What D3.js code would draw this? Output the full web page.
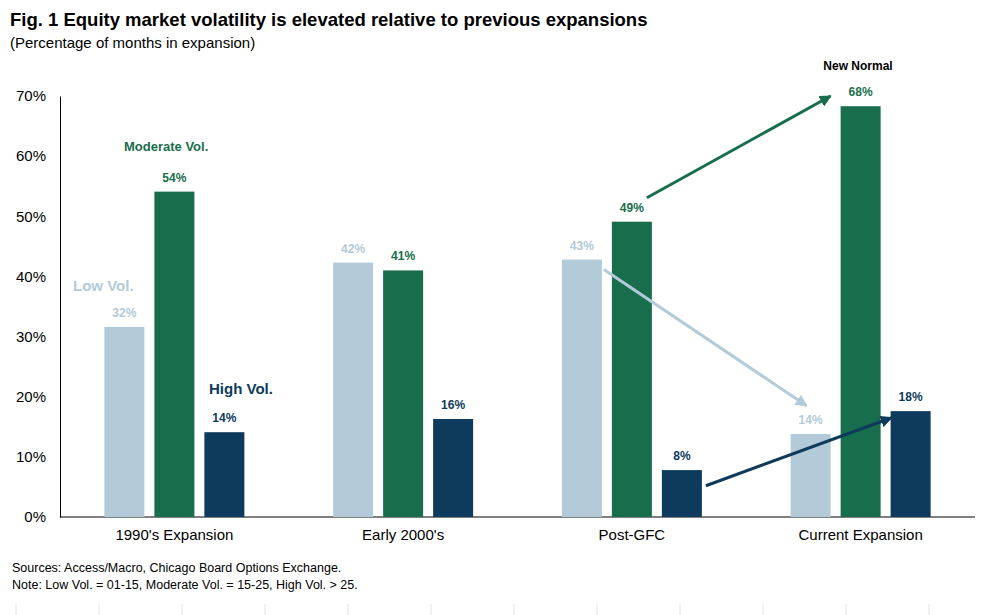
<!DOCTYPE html>
<html><head><meta charset="utf-8">
<script src="https://cdn.jsdelivr.net/npm/d3@7"></script>
<style>body{margin:0;background:#fff}text{font-family:Arial,"Liberation Sans",sans-serif}</style>
</head><body>
<script>
var categories = ["1990's Expansion", "Early 2000's", "Post-GFC", "Current Expansion"];
var series = ["Low Vol.", "Moderate Vol.", "High Vol."];
var lowVol = [31.6, 42.3, 42.8, 13.8];
var modVol = [54.1, 41.0, 49.1, 68.3];
var highVol = [14.1, 16.3, 7.8, 17.6];
var labels = [["32%", "54%", "14%"], ["42%", "41%", "16%"], ["43%", "49%", "8%"], ["14%", "68%", "18%"]];
var yTicks = [0, 10, 20, 30, 40, 50, 60, 70];
var colors = ["#b3cad8", "#186e4c", "#0e3a5c"];

var width = 998, height = 615;
var svg = d3.select("body").append("svg").attr("width", width).attr("height", height);

var x = d3.scaleBand().domain(categories).range([60, 975]);
var y = d3.scaleLinear().domain([0, 70]).range([517, 96]);
var barW = 40, gap = 10;
function bx(c, i) { return x(c) + x.bandwidth() / 2 + (i - 1) * (barW + gap) - barW / 2; }

svg.append("text").attr("x", 10).attr("y", 26).attr("font-size", 18.5).attr("font-weight", "bold")
  .text("Fig. 1 Equity market volatility is elevated relative to previous expansions");
svg.append("text").attr("x", 10).attr("y", 48).attr("font-size", 15).text("(Percentage of months in expansion)");

var yAxis = svg.append("g").attr("transform", "translate(60,0)")
  .call(d3.axisLeft(y).tickValues(yTicks).tickFormat(d => d + "%").tickSize(0).tickPadding(14));
yAxis.selectAll("text").attr("font-size", 15).attr("fill", "#000");
yAxis.select(".domain").attr("stroke", "#000");
var xAxis = svg.append("g").attr("transform", "translate(0,517)")
  .call(d3.axisBottom(x).tickSize(0).tickPadding(12));
xAxis.selectAll("text").attr("font-size", 15).attr("fill", "#000");
xAxis.select(".domain").attr("stroke", "#000").attr("d", "M60,0H975");

var data = [];
categories.forEach(function (c, ci) {
  [lowVol, modVol, highVol].forEach(function (s, si) {
    data.push({ c: c, si: si, v: s[ci], lab: labels[ci][si] });
  });
});
svg.selectAll("rect.bar").data(data).enter().append("rect")
  .attr("x", d => bx(d.c, d.si)).attr("y", d => y(d.v))
  .attr("width", barW).attr("height", d => y(0) - y(d.v)).attr("fill", d => colors[d.si]);
svg.selectAll("text.val").data(data).enter().append("text")
  .attr("x", d => bx(d.c, d.si) + barW / 2).attr("y", d => y(d.v) - 10)
  .attr("text-anchor", "middle").attr("font-size", 12).attr("font-weight", "bold")
  .attr("fill", d => colors[d.si]).text(d => d.lab);

// series labels
svg.append("text").attr("x", 73).attr("y", 291).attr("font-size", 15).attr("font-weight", "bold").attr("fill", colors[0]).text(series[0]);
svg.append("text").attr("x", 124).attr("y", 151).attr("font-size", 13).attr("font-weight", "bold").attr("fill", colors[1]).text(series[1]);
svg.append("text").attr("x", 209).attr("y", 394).attr("font-size", 15).attr("font-weight", "bold").attr("fill", colors[2]).text(series[2]);
svg.append("text").attr("x", 858).attr("y", 70).attr("font-size", 12).attr("font-weight", "bold").attr("text-anchor", "middle").text("New Normal");

// arrows
var defs = svg.append("defs");
colors.forEach(function (col, i) {
  defs.append("marker").attr("id", "ah" + i).attr("viewBox", "0 0 10 10").attr("refX", 9).attr("refY", 5)
    .attr("markerWidth", 4).attr("markerHeight", 4).attr("orient", "auto")
    .append("path").attr("d", "M0,0L10,5L0,10z").attr("fill", col);
});
var arrows = [
  { si: 1, x1: bx(categories[2], 1) + 35, y1: y(49.1) - 24, x2: bx(categories[3], 1) - 10, y2: y(70) },
  { si: 0, x1: bx(categories[2], 0) + 42, y1: y(43) + 11, x2: bx(categories[3], 0) + 16, y2: y(18.5) },
  { si: 2, x1: bx(categories[2], 2) + 44, y1: y(5.2), x2: bx(categories[3], 2) + 1, y2: y(16.5) }
];
svg.selectAll("line.arr").data(arrows).enter().append("line")
  .attr("x1", d => d.x1).attr("y1", d => d.y1).attr("x2", d => d.x2).attr("y2", d => d.y2)
  .attr("stroke", d => colors[d.si]).attr("stroke-width", 3).attr("marker-end", d => "url(#ah" + d.si + ")");

svg.append("text").attr("x", 12).attr("y", 572).attr("font-size", 12.5).text("Sources: Access/Macro, Chicago Board Options Exchange.");
svg.append("text").attr("x", 12).attr("y", 589).attr("font-size", 12.5).text("Note: Low Vol. = 01-15, Moderate Vol. = 15-25, High Vol. > 25.");

svg.selectAll("line.tk").data(d3.range(12)).enter().append("line")
  .attr("x1", d => 16 + d * 83).attr("x2", d => 16 + d * 83).attr("y1", 604).attr("y2", 615)
  .attr("stroke", "#e4e4e4");
</script>
</body></html>
